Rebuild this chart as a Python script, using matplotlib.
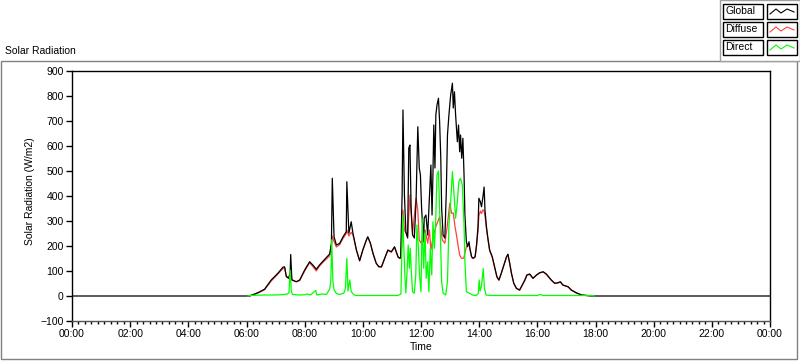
import matplotlib.pyplot as plt
from matplotlib.patches import Rectangle
from matplotlib.lines import Line2D
from matplotlib.ticker import MultipleLocator, FuncFormatter

# time in decimal hours, radiation in W/m2
global_t = [0.0, 6.05, 6.11, 6.39, 6.62, 6.85, 7.08, 7.25, 7.31, 7.37, 7.45, 7.50, 7.52, 7.56,
            7.71, 7.83, 8.00, 8.17, 8.28, 8.40, 8.51, 8.69, 8.86, 8.92, 8.95, 9.01, 9.09, 9.20,
            9.32, 9.43, 9.45, 9.52, 9.60, 9.66, 9.78, 9.89, 10.00, 10.12, 10.17, 10.26, 10.35,
            10.46, 10.55, 10.64, 10.75, 10.86, 10.98, 11.09, 11.21, 11.27, 11.30, 11.35, 11.38,
            11.43, 11.48, 11.54, 11.58, 11.62, 11.66, 11.71, 11.77, 11.83, 11.89, 11.94, 11.98,
            12.02, 12.09, 12.11, 12.17, 12.23, 12.29, 12.34, 12.38, 12.41, 12.44, 12.48, 12.51,
            12.55, 12.60, 12.64, 12.68, 12.71, 12.76, 12.82, 12.87, 12.91, 12.96, 13.02, 13.08,
            13.11, 13.15, 13.19, 13.25, 13.29, 13.33, 13.36, 13.40, 13.44, 13.48, 13.51, 13.56,
            13.60, 13.65, 13.68, 13.74, 13.79, 13.86, 13.91, 13.96, 13.99, 14.04, 14.08, 14.13,
            14.17, 14.20, 14.25, 14.30, 14.36, 14.45, 14.53, 14.61, 14.68, 14.76, 14.94, 14.99,
            15.05, 15.11, 15.19, 15.28, 15.39, 15.45, 15.57, 15.64, 15.74, 15.85, 15.97, 16.08,
            16.20, 16.31, 16.43, 16.48, 16.60, 16.71, 16.79, 16.88, 17.06, 17.17, 17.34, 17.52,
            17.86, 24.0]
global_v = [0, 0, 0, 13, 27, 64, 91, 115, 117, 77, 71, 90, 166, 64,
            57, 64, 104, 137, 124, 107, 124, 147, 168, 211, 471, 237, 204, 210,
            237, 257, 457, 251, 297, 251, 184, 141, 184, 224, 237, 211, 171,
            131, 117, 117, 151, 184, 177, 197, 157, 151, 155, 400, 744,
            404, 257, 232, 592, 604, 352, 244, 232, 377, 677, 512, 484,
            352, 217, 312, 324, 244, 392, 524, 324, 484, 684, 512, 724,
            764, 791, 697, 552, 352, 244, 232, 417, 644, 724, 804, 851,
            752, 817, 724, 617, 684, 577, 644, 551, 631, 484, 324, 217,
            197, 217, 191, 157, 151, 157, 205, 277, 391, 377, 357, 397,
            436, 344, 277, 231, 184, 157, 117, 77, 64, 91, 157, 167,
            131, 91, 51, 31, 24, 37, 64, 84, 88, 71, 84, 93,
            97, 88, 71, 64, 51, 53, 57, 44, 37, 24, 13, 4,
            0, 0]

# diffuse and direct are only logged between sunrise and sunset
diffuse_t = [6.11, 6.39, 6.62, 6.85, 7.08, 7.25, 7.31, 7.37, 7.45, 7.52, 7.56, 7.71,
             7.83, 8.00, 8.17, 8.28, 8.40, 8.51, 8.69, 8.86, 8.92, 8.95, 9.01, 9.09, 9.20, 9.32,
             9.43, 9.45, 9.52, 9.60, 9.66, 9.78, 9.89, 10.00, 10.12, 10.17, 10.26, 10.35, 10.46,
             10.55, 10.64, 10.75, 10.86, 10.98, 11.09, 11.21, 11.27, 11.30, 11.33, 11.38, 11.43,
             11.54, 11.62, 11.66, 11.71, 11.83, 11.89, 11.94, 12.00, 12.05, 12.14, 12.23, 12.29,
             12.34, 12.42, 12.51, 12.64, 12.73, 12.82, 12.90, 12.99, 13.05, 13.11, 13.17, 13.23,
             13.28, 13.33, 13.39, 13.47, 13.56, 13.65, 13.68, 13.74, 13.79, 13.86, 13.91, 13.96,
             13.99, 14.04, 14.08, 14.13, 14.17, 14.20, 14.25, 14.30, 14.36, 14.45, 14.53, 14.61,
             14.68, 14.76, 14.94, 14.99, 15.05, 15.11, 15.19, 15.28, 15.39, 15.45, 15.57, 15.64,
             15.74, 15.85, 15.97, 16.08, 16.20, 16.31, 16.43, 16.48, 16.60, 16.71, 16.79, 16.88,
             17.06, 17.17, 17.34, 17.52, 17.80]
diffuse_v = [1, 12, 25, 60, 88, 110, 112, 80, 72, 100, 66, 57,
             62, 100, 133, 118, 100, 120, 142, 160, 200, 240, 218, 196, 205, 230,
             250, 264, 240, 255, 245, 182, 141, 184, 222, 235, 211, 168, 131,
             117, 115, 150, 182, 175, 195, 155, 150, 150, 191, 344, 264,
             237, 404, 331, 251, 391, 344, 224, 211, 237, 264, 211, 264,
             184, 237, 277, 317, 224, 211, 277, 371, 331, 332, 277, 237,
             197, 164, 151, 151, 197, 210, 188, 155, 150, 155, 200, 260,
             320, 340, 330, 345, 340, 320, 270, 228, 182, 155, 115, 76,
             63, 90, 155, 165, 130, 90, 50, 30, 23, 36, 62, 83,
             86, 70, 83, 92, 96, 86, 70, 63, 50, 52, 56, 43,
             36, 23, 12, 4, 1]

direct_t = [6.05, 6.11, 6.60, 7.00, 7.30, 7.40, 7.46, 7.50, 7.54, 7.58, 7.80, 8.00, 8.10,
            8.20, 8.38, 8.42, 8.60, 8.75, 8.86, 8.90, 8.93, 8.97, 9.01, 9.09, 9.20, 9.35, 9.40,
            9.45, 9.49, 9.55, 9.60, 9.70, 9.80, 10.50, 11.20, 11.31, 11.37, 11.41, 11.45, 11.48,
            11.52, 11.56, 11.60, 11.63, 11.68, 11.71, 11.77, 11.82, 11.86, 11.91, 11.95, 12.00,
            12.04, 12.09, 12.14, 12.18, 12.23, 12.27, 12.32, 12.37, 12.41, 12.46, 12.50, 12.55,
            12.60, 12.66, 12.71, 12.76, 12.85, 12.91, 12.96, 13.02, 13.08, 13.13, 13.19, 13.25,
            13.30, 13.36, 13.42, 13.48, 13.51, 13.56, 13.65, 13.77, 13.90, 13.97, 14.00, 14.03,
            14.08, 14.14, 14.18, 14.24, 14.40, 16.00, 16.10, 16.20, 17.90, 17.95]
direct_v = [0, 2, 4, 4, 6, 8, 13, 104, 20, 6, 4, 5, 8,
            4, 22, 4, 8, 6, 28, 60, 225, 60, 25, 10, 6, 12, 30,
            150, 20, 64, 18, 4, 2, 2, 2, 8, 324, 191, 71, 12,
            97, 204, 111, 191, 71, 17, 11, 84, 284, 191, 84, 17,
            311, 111, 257, 71, 137, 17, 191, 84, 297, 191, 284, 484,
            500, 271, 57, 11, 4, 57, 284, 377, 497, 417, 311, 377,
            457, 471, 444, 284, 137, 17, 12, 4, 2, 10, 64, 20,
            40, 110, 30, 4, 2, 2, 6, 2, 2, 0]

plt.rcParams['font.family'] = ['Liberation Sans', 'DejaVu Sans']
plt.rcParams['font.size'] = 7.5

W, H = 800, 361


def fx(x):
    return x / W


def fy(y):
    return 1 - y / H


fig = plt.figure(figsize=(8, 3.61), dpi=100)
fig.patch.set_facecolor('white')

# outer panel frame
fig.patches.append(Rectangle((fx(1), fy(359)), (797 - 1) / W, (359 - 61) / H,
                             transform=fig.transFigure, fill=False,
                             edgecolor='#808080', lw=1))
fig.text(fx(5), fy(51), 'Solar Radiation', ha='left', va='center')

ax = fig.add_axes([fx(72), fy(321), (770 - 72) / W, (321 - 71) / H])
ax.plot(diffuse_t, diffuse_v, color='#ff4040', lw=0.9)
ax.plot(global_t, global_v, color='black', lw=0.9)
ax.plot(direct_t, direct_v, color='#00ff00', lw=0.9)

ax.set_xlim(0, 24)
ax.set_ylim(-100, 900)
ax.xaxis.set_major_locator(MultipleLocator(2))
ax.xaxis.set_minor_locator(MultipleLocator(2 / 9))
ax.xaxis.set_major_formatter(FuncFormatter(lambda v, p: '%02d:00' % (int(round(v)) % 24)))
ax.yaxis.set_major_locator(MultipleLocator(100))
ax.tick_params(axis='both', which='major', direction='out', length=4, width=1, pad=2)
ax.tick_params(axis='x', which='minor', direction='out', length=2.5, width=1)
for s in ax.spines.values():
    s.set_linewidth(1)
    s.set_color('black')
ax.spines['bottom'].set_color('#555555')
ax.set_xlabel('Time', labelpad=2)
ax.set_ylabel('Solar Radiation (W/m2)')
ax.yaxis.set_label_coords(-0.053, 0.52)

# legend panel, top right
fig.patches.append(Rectangle((fx(720), fy(61)), 80 / W, 61 / H,
                             transform=fig.transFigure, facecolor='white',
                             edgecolor='#a0a0a0', lw=1))
names = ['Global', 'Diffuse', 'Direct']
colors = ['black', '#ff4040', '#00ff00']
for i, (name, c) in enumerate(zip(names, colors)):
    top = 4 + i * 18
    fig.patches.append(Rectangle((fx(723), fy(top + 15)), 40 / W, 15 / H,
                                 transform=fig.transFigure, fill=False,
                                 edgecolor='black', lw=1))
    fig.patches.append(Rectangle((fx(767), fy(top + 15)), 30 / W, 15 / H,
                                 transform=fig.transFigure, fill=False,
                                 edgecolor='black', lw=1))
    fig.text(fx(725), fy(top + 7.5), name, ha='left', va='center')
    zx = [770, 776, 781, 787, 794]
    zy = [top + 10, top + 5, top + 9, top + 5, top + 8]
    fig.lines.append(Line2D([fx(v) for v in zx], [fy(v) for v in zy],
                            transform=fig.transFigure, color=c, lw=0.8))

fig.savefig('out.png', dpi=100)
